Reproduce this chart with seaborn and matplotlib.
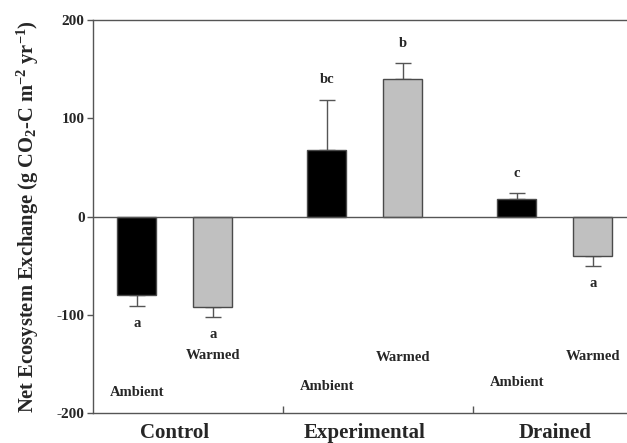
import matplotlib
matplotlib.use('Agg')
import matplotlib.pyplot as plt
import seaborn as sns
import pandas as pd

# values
sites = ['Control', 'Experimental', 'Drained']
treatments = ['Ambient', 'Warmed']
ambient_nee = [-80, 68, 18]
warmed_nee = [-92, 140, -40]
ambient_err = [11, 51, 6]
warmed_err = [10, 16, 10]
ambient_letters = ['a', 'bc', 'c']
warmed_letters = ['a', 'b', 'a']

# where the treatment names sit (in y units)
ambient_label_y = [-179, -173, -169]
warmed_label_y = [-141, -144, -142]

df = pd.DataFrame({
    'site': sites * 2,
    'treatment': ['Ambient'] * 3 + ['Warmed'] * 3,
    'nee': ambient_nee + warmed_nee,
})

sns.set_style('ticks')
plt.rcParams['font.family'] = ['Liberation Serif', 'DejaVu Serif']
plt.rcParams['font.weight'] = 'bold'
plt.rcParams['mathtext.fontset'] = 'custom'
plt.rcParams['mathtext.rm'] = 'Liberation Serif:bold'
plt.rcParams['mathtext.it'] = 'Liberation Serif:bold'
plt.rcParams['mathtext.bf'] = 'Liberation Serif:bold'

fig = plt.figure(figsize=(6.27, 4.43), dpi=100)
ax = fig.add_axes([0.1483, 0.0677, 0.8517, 0.887])

sns.barplot(data=df, x='site', y='nee', hue='treatment', order=sites,
            hue_order=treatments, palette=['#000000', '#c0c0c0'],
            width=0.8, gap=0.49, edgecolor='#4a4a4a', linewidth=1.0,
            legend=False, ax=ax, zorder=3)

errs = [ambient_err, warmed_err]
letters = [ambient_letters, warmed_letters]
label_y = [ambient_label_y, warmed_label_y]
bar_groups = list(ax.containers)
for k, cont in enumerate(bar_groups):
    for i, bar in enumerate(cont):
        xc = bar.get_x() + bar.get_width() / 2
        h = bar.get_y() + bar.get_height()
        val = h if h > 0 else min(bar.get_y(), h)
        e = errs[k][i]
        if val >= 0:
            yerr = [[0], [e]]
            ly = val + e + 20
        else:
            yerr = [[e], [0]]
            ly = val - e - 18
        ax.errorbar(xc, val, yerr=yerr, fmt='none', ecolor='#555555',
                    elinewidth=1.0, capsize=6, capthick=1.0, zorder=2)
        ax.text(xc, ly, letters[k][i], ha='center', va='center',
                fontsize=10.5, fontweight='bold')
        ax.text(xc, label_y[k][i], treatments[k], ha='center',
                va='center', fontsize=10.5, fontweight='bold')

ax.axhline(0, color='#555555', lw=1.0, zorder=4)

ax.set_xlim(-0.43, 2.38)
ax.set_ylim(-200, 200)
ax.set_yticks([-200, -100, 0, 100, 200])
ax.set_yticklabels(['-200', '-100', '0', '100', '200'], fontsize=11,
                   fontweight='bold')
ax.tick_params(axis='y', direction='out', length=4, width=1, color='#555555',
               pad=2)

ax.set_xticks([0, 1, 2])
ax.set_xticklabels(sites, fontsize=15, fontweight='bold')
ax.tick_params(axis='x', which='major', length=0, pad=7)
ax.set_xticks([0.57, 1.57], minor=True)
ax.tick_params(axis='x', which='minor', direction='in', length=5, width=1,
               color='#555555')
ax.set_xlabel('')
ax.set_ylabel(r'Net Ecosystem Exchange (g CO$_\mathrm{2}$-C m$^\mathrm{-2}$ yr$^\mathrm{-1}$)',
              fontsize=14.8, fontweight='bold', labelpad=11)

for s in ['left', 'top', 'bottom']:
    ax.spines[s].set_color('#555555')
    ax.spines[s].set_linewidth(1.0)
ax.spines['right'].set_visible(False)

fig.savefig('out.png', dpi=100)
